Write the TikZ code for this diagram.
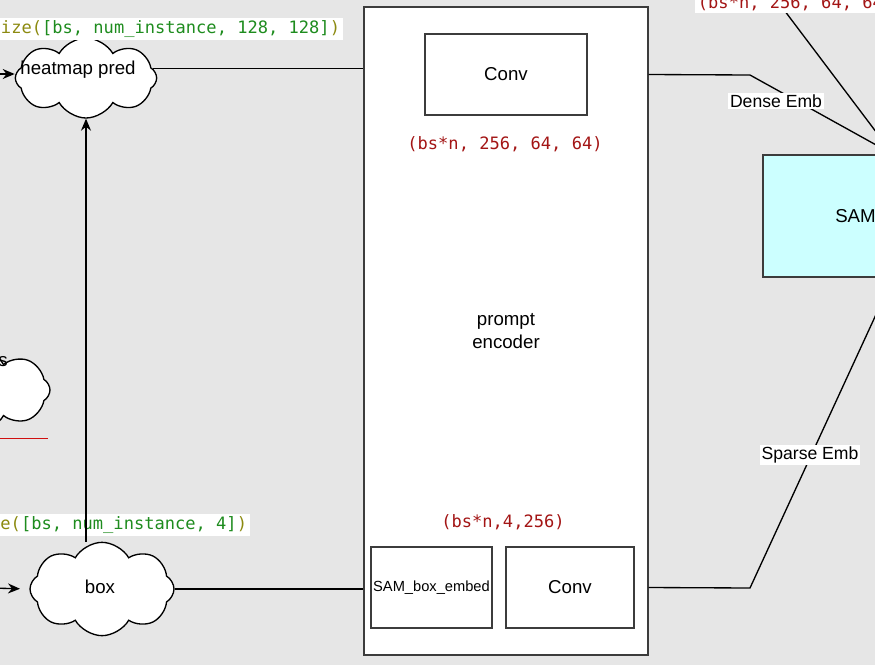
\documentclass[tikz,border=0pt]{standalone}
\usepackage{fontspec}
\setmainfont{Liberation Sans}
\setmonofont{DejaVu Sans Mono}
\usetikzlibrary{shapes.symbols, arrows.meta, calc}
\definecolor{bggray}{HTML}{E6E6E6}
\definecolor{edgegray}{HTML}{3C3C3C}
\definecolor{samcyan}{HTML}{CCFFFF}
\definecolor{strred}{HTML}{A31515}
\definecolor{codegreen}{HTML}{1E8C1E}
\definecolor{fnolive}{HTML}{8C8A10}
\definecolor{linered}{HTML}{D01010}

\begin{document}
\begin{tikzpicture}[x=0.75pt, y=-0.75pt,
  blk/.style={draw=edgegray, fill=white, line width=1pt, inner sep=0pt, font=\fontsize{14}{17}\selectfont},
  cld/.style={cloud, cloud puffs=8, cloud puff arc=120, cloud ignores aspect, draw=black, fill=white, line width=1pt, inner sep=0pt},
  txt/.style={inner sep=0pt, font=\fontsize{14}{17}\selectfont},
  lbl/.style={fill=white, inner sep=1.5pt, font=\fontsize{13.2}{16}\selectfont},
  code/.style={inner sep=2pt, font=\ttfamily\fontsize{12.8}{15}\selectfont},
  ln/.style={draw=black, line width=1pt},
  arr/.style={ln, -{Stealth[length=9pt, width=7.5pt]}}]
  \useasboundingbox (0,0) rectangle (875,665);
  \clip (0,0) rectangle (875,665);
  \fill[bggray] (0,0) rectangle (875,665);

  % encoder block
  \node[blk, minimum width=213pt, minimum height=486pt, align=center] (pe) at (506,331) {prompt\\encoder};
  \node[blk, minimum width=121.5pt, minimum height=60.75pt] (convt) at (506,74.5) {Conv};
  \node[blk, minimum width=90.75pt, minimum height=60.75pt, font=\fontsize{11}{13}\selectfont] (boxe) at (431.5,587.5) {SAM\_box\_embed};
  \node[blk, minimum width=96pt, minimum height=60.75pt] (convb) at (570,587.5) {Conv};
  \node[code, text=strred] (dshape) at (505,144) {(bs*n, 256, 64, 64)};
  \node[code, text=strred] (sshape) at (503,522) {(bs*n,4,256)};

  % decoder block
  \node[blk, fill=samcyan, minimum width=195pt, minimum height=91.5pt] (sam) at (893,216) {};
  \node[txt, anchor=west] (samtxt) at (835,216) {SAM};

  % inputs
  \node[cld, minimum width=112.5pt, minimum height=63pt] (pts) at (-25,390) {};
  \node[txt] (ptstxt) at (3,362) {s};
  \draw[linered, line width=0.75pt] (0,438) -- (48,438);

  \node[cld, minimum width=106pt, minimum height=60pt] (heat) at (86,78) {};
  \node[txt] (heattxt) at (78,70) {heatmap pred};
  \node[cld, minimum width=108pt, minimum height=70pt] (box) at (102,589) {};
  \node[txt] (boxtxt) at (100,587) {box};

  \node[code, fill=white, anchor=east] (hsize) at (343,29) {\textcolor{fnolive}{ize(}\textcolor{codegreen}{[bs, num\_instance, 128, 128]}\textcolor{fnolive}{)}};
  \node[code, fill=white, anchor=east] (bsize) at (250,525) {\textcolor{fnolive}{e(}\textcolor{codegreen}{[bs, num\_instance, 4]}\textcolor{fnolive}{)}};

  \coordinate (hin) at (-10,74);
  \coordinate (bin) at (-10,588);
  \draw[arr] (hin) -- (heat.west |- hin);
  \draw[arr, shorten >=7pt] (bin) -- (box.west);
  \draw[arr] (box.north -| heat.south) -- (heat.south);
  \draw[ln] (heat.8) -- (pe.west |- heat.8);
  \draw[ln] (box.east) -- (pe.west |- box.east);

  % embeddings to SAM
  \coordinate (dk) at (750,75);
  \coordinate (sk) at (750,588);
  \coordinate (tk) at (769,-10);
  \draw[ln] (pe.east |- convt) -- (dk) -- (sam.north);
  \draw[ln] (pe.east |- convb) -- (sk) -- (sam.south);
  \draw[ln] (tk) -- (sam.north);
  \node[lbl] (dense) at (776,101) {Dense Emb};
  \node[lbl] (sparse) at (810,455) {Sparse Emb};
  \node[code, fill=white, text=strred, anchor=west] (tshape) at (695,3) {(bs*n, 256, 64, 64)};
\end{tikzpicture}
\end{document}
